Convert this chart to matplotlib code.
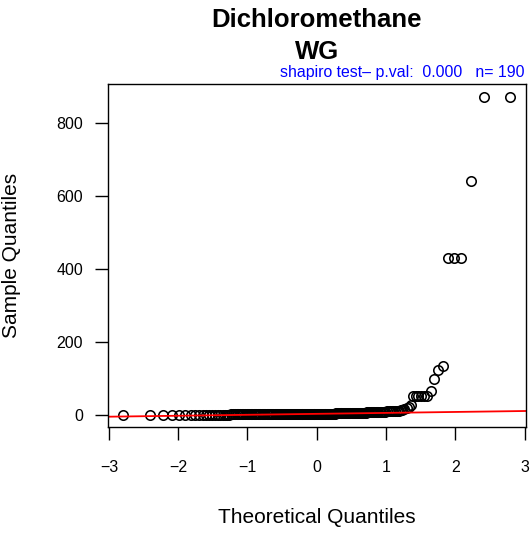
import statistics

import matplotlib
matplotlib.use('Agg')
import matplotlib.pyplot as plt
import numpy as np

plt.rcParams['font.family'] = ['Liberation Sans', 'DejaVu Sans']

# Sorted sample values and how many times each occurs
sample_levels = [0.2, 0.5, 1, 2, 3, 4, 6, 8, 10, 12, 14, 16, 18, 22, 27,
                 50, 66, 99, 121, 132, 430, 640, 870]
sample_counts = [20, 30, 20, 20, 25, 30, 8, 7, 8, 1, 1, 1, 1, 1, 1,
                 6, 1, 1, 1, 1, 3, 1, 2]

title_lines = ['Dichloromethane', 'WG']
test_note = 'shapiro test\u2013 p.val:  0.000   n= 190'
x_ticks = [-3, -2, -1, 0, 1, 2, 3]
y_ticks = [0, 200, 400, 600, 800]

sample = np.sort(np.repeat(sample_levels, sample_counts))
n = len(sample)

# qqnorm: theoretical quantiles from ppoints
nd = statistics.NormalDist()
probs = (np.arange(1, n + 1) - 0.5) / n
theo = np.array([nd.inv_cdf(p) for p in probs])

# qqline through the quartiles
q1, q3 = np.quantile(sample, [0.25, 0.75])
z1, z3 = nd.inv_cdf(0.25), nd.inv_cdf(0.75)
slope = (q3 - q1) / (z3 - z1)
intercept = q1 - slope * z1

W, H = 532, 533
fig = plt.figure(figsize=(W / 100, H / 100), dpi=100)
ax = fig.add_axes([108 / W, 1 - 427.3 / H, (525.5 - 108) / W, (427.3 - 84.3) / H])

ax.plot(theo, sample, linestyle='none', marker='o', mfc='none', mec='black',
        ms=6.8, mew=1.15)
ax.axline((0, intercept), slope=slope, color='red', lw=1.3)

xr = theo.max() - theo.min()
yr = sample.max() - sample.min()
ax.set_xlim(theo.min() - 0.04 * xr, theo.max() + 0.04 * xr)
ax.set_ylim(sample.min() - 0.04 * yr, sample.max() + 0.04 * yr)

ax.set_xticks(x_ticks)
ax.set_yticks(y_ticks)
ax.tick_params(axis='x', length=9.4, width=1, pad=14, labelsize=11.5)
ax.tick_params(axis='y', length=9.4, width=1, pad=8.5, labelsize=11.5)
for sp in ax.spines.values():
    sp.set_linewidth(1.0)

cx = (108 + 525.5) / 2 / W
fig.text(cx, 1 - 26.7 / H, title_lines[0], ha='center', va='baseline',
         fontsize=18.5, fontweight='bold')
fig.text(cx, 1 - 59.3 / H, title_lines[1], ha='center', va='baseline',
         fontsize=18.5, fontweight='bold')
fig.text(525 / W, 1 - 77 / H, test_note, ha='right', va='baseline',
         fontsize=11.4, color='blue')

fig.text(cx, 1 - 523 / H, 'Theoretical Quantiles', ha='center', va='baseline',
         fontsize=15)
fig.text(12 / W, 1 - 255.8 / H, 'Sample Quantiles', ha='center', va='center',
         rotation=90, fontsize=15)

fig.savefig('out.png', dpi=100)
